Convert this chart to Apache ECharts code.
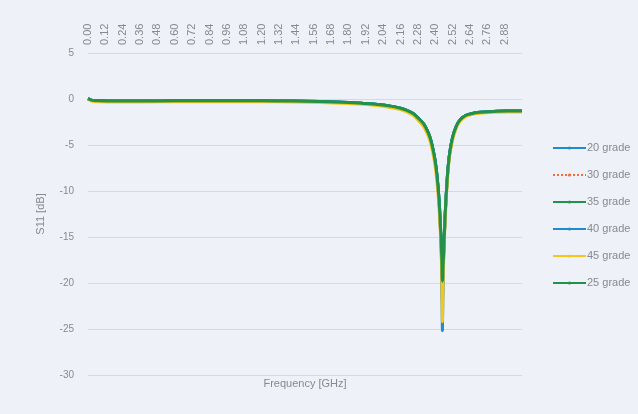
<!DOCTYPE html>
<html>
<head>
<meta charset="utf-8">
<script src="https://cdn.jsdelivr.net/npm/echarts@6/dist/echarts.min.js"></script>
<style>
  html, body { margin: 0; padding: 0; background: #eef2f8; }
  #chart { width: 638px; height: 414px; }
</style>
</head>
<body>
<div id="chart"></div>
<script>
// Frequency sample points (GHz), denser around the resonance
const freq = [0, 0.03, 0.08, 0.2, 0.4, 0.6, 0.8, 1.0, 1.2, 1.4, 1.6, 1.8, 1.9, 2.0, 2.1, 2.16, 2.2, 2.25, 2.29, 2.32, 2.35, 2.37, 2.39, 2.40, 2.41, 2.42, 2.43, 2.44, 2.445, 2.45, 2.455, 2.46, 2.465, 2.47, 2.48, 2.49, 2.50, 2.52, 2.545, 2.57, 2.61, 2.65, 2.71, 2.8, 2.9, 3.0];

// S11 (dB) per temperature grade
const s11_20 = [0.05, -0.15, -0.2, -0.22, -0.22, -0.2, -0.18, -0.2, -0.2, -0.22, -0.28, -0.38, -0.48, -0.6, -0.8, -1.0, -1.2, -1.6, -2.2, -2.7, -3.6, -4.5, -5.9, -6.8, -8.0, -9.7, -12.0, -15.4, -17.8, -22.0, -18.6, -16.2, -14.1, -12.3, -9.4, -7.3, -5.9, -4.2, -3.0, -2.3, -1.8, -1.6, -1.45, -1.35, -1.3, -1.3];
const s11_30 = [0.05, -0.15, -0.2, -0.22, -0.22, -0.2, -0.18, -0.2, -0.2, -0.22, -0.28, -0.38, -0.48, -0.6, -0.8, -1.0, -1.2, -1.6, -2.2, -2.7, -3.6, -4.5, -5.9, -6.8, -8.0, -9.6, -11.9, -15.2, -17.4, -21.0, -18.3, -16.1, -14.0, -12.2, -9.4, -7.3, -5.9, -4.2, -3.0, -2.3, -1.8, -1.6, -1.45, -1.35, -1.3, -1.3];
const s11_35 = [0.05, -0.15, -0.2, -0.22, -0.22, -0.2, -0.18, -0.2, -0.2, -0.22, -0.28, -0.38, -0.48, -0.6, -0.8, -1.0, -1.2, -1.6, -2.2, -2.7, -3.6, -4.5, -5.9, -6.8, -8.0, -9.6, -11.8, -15.1, -17.2, -20.4, -18.2, -16.0, -14.0, -12.2, -9.4, -7.3, -5.9, -4.2, -3.0, -2.3, -1.8, -1.6, -1.45, -1.35, -1.3, -1.3];
const s11_40 = [0.05, -0.15, -0.2, -0.22, -0.22, -0.2, -0.18, -0.2, -0.2, -0.22, -0.28, -0.38, -0.48, -0.6, -0.8, -1.0, -1.2, -1.6, -2.2, -2.7, -3.6, -4.5, -5.9, -6.8, -8.0, -9.7, -12.0, -15.6, -18.5, -25.2, -19.0, -16.4, -14.2, -12.4, -9.5, -7.3, -5.9, -4.2, -3.0, -2.3, -1.8, -1.6, -1.45, -1.35, -1.3, -1.3];
const s11_45 = [0.0, -0.25, -0.3, -0.32, -0.32, -0.3, -0.28, -0.3, -0.3, -0.32, -0.38, -0.48, -0.58, -0.72, -0.95, -1.15, -1.38, -1.8, -2.45, -3.0, -3.95, -4.9, -6.4, -7.4, -8.7, -10.4, -12.8, -16.2, -18.8, -24.2, -19.4, -16.9, -14.7, -12.8, -9.9, -7.7, -6.2, -4.5, -3.2, -2.45, -1.92, -1.7, -1.55, -1.45, -1.4, -1.4];
const s11_25 = [0.05, -0.15, -0.2, -0.22, -0.22, -0.2, -0.18, -0.2, -0.2, -0.22, -0.28, -0.38, -0.48, -0.6, -0.8, -1.0, -1.2, -1.6, -2.2, -2.7, -3.6, -4.5, -5.9, -6.8, -8.0, -9.6, -11.8, -15.0, -17.0, -19.8, -18.0, -16.0, -14.0, -12.2, -9.4, -7.3, -5.9, -4.2, -3.0, -2.3, -1.8, -1.6, -1.45, -1.35, -1.3, -1.3];

const seriesNames = ['20 grade', '30 grade', '35 grade', '40 grade', '45 grade', '25 grade'];
const seriesValues = [s11_20, s11_30, s11_35, s11_40, s11_45, s11_25];
const seriesColors = ['#1f8dcc', '#f26b3a', '#23914a', '#1f8dcc', '#f7c516', '#23914a'];

const textColor = '#858a90';
const fontFamily = 'Liberation Sans, Arial, sans-serif';

// Legend swatches: a solid bar, or a row of short dashes for the dotted series
const solidIcon = 'rect';
const dottedIcon = 'path://M0,0h2v1h-2z M3,0h2v1h-2z M6,0h2v1h-2z M9,0h2v1h-2z M12,0h2v1h-2z M15,0h2v1h-2z M18,0h2v1h-2z M21,0h2v1h-2z M24,0h2v1h-2z M27,0h2v1h-2z M30,0h2v1h-2z';

const series = seriesNames.map((name, k) => {
  const dotted = name === '30 grade';
  return {
    name: name,
    type: 'line',
    symbol: 'none',
    showSymbol: false,
    legendIcon: dotted ? dottedIcon : solidIcon,
    smooth: 0.25,
    data: freq.map((f, i) => [f, seriesValues[k][i]]),
    lineStyle: {
      color: seriesColors[k],
      width: dotted ? 1.5 : 3,
      type: dotted ? 'dotted' : 'solid'
    },
    itemStyle: { color: seriesColors[k] },
    z: 2 + k
  };
});

const chart = echarts.init(document.getElementById('chart'), null, { renderer: 'canvas' });
chart.setOption({
  backgroundColor: '#eef2f8',
  animation: false,
  grid: { left: 88, right: 116, top: 53, bottom: 39, containLabel: false },
  legend: {
    orient: 'vertical',
    left: 547,
    top: 136,
    itemWidth: 33,
    itemHeight: 4,
    itemGap: 13,
    data: seriesNames,
    textStyle: { color: textColor, fontSize: 11, fontFamily: fontFamily, padding: [0, 0, 0, -4], lineHeight: 14 }
  },
  xAxis: [
    {
      type: 'value',
      position: 'top',
      min: 0,
      max: 3,
      interval: 0.12,
      axisLine: { show: false },
      axisTick: { show: false },
      splitLine: { show: false },
      axisLabel: {
        rotate: 90,
        margin: 8,
        showMaxLabel: false,
        color: textColor,
        fontSize: 11,
        fontFamily: fontFamily,
        formatter: v => v.toFixed(2)
      }
    },
    {
      type: 'value',
      position: 'bottom',
      min: 0,
      max: 3,
      axisLine: { show: false },
      axisTick: { show: false },
      axisLabel: { show: false },
      splitLine: { show: false },
      name: 'Frequency [GHz]',
      nameLocation: 'middle',
      nameGap: 3,
      nameTextStyle: { color: textColor, fontSize: 11, fontFamily: fontFamily }
    }
  ],
  yAxis: {
    type: 'value',
    min: -30,
    max: 5,
    interval: 5,
    name: 'S11 [dB]',
    nameLocation: 'middle',
    nameGap: 42,
    nameTextStyle: { color: textColor, fontSize: 11, fontFamily: fontFamily },
    axisLine: { show: false },
    axisTick: { show: false },
    axisLabel: { margin: 14, color: textColor, fontSize: 10, fontFamily: fontFamily },
    splitLine: { lineStyle: { color: '#d6d9de', width: 1 } }
  },
  series: series
});
</script>
</body>
</html>
